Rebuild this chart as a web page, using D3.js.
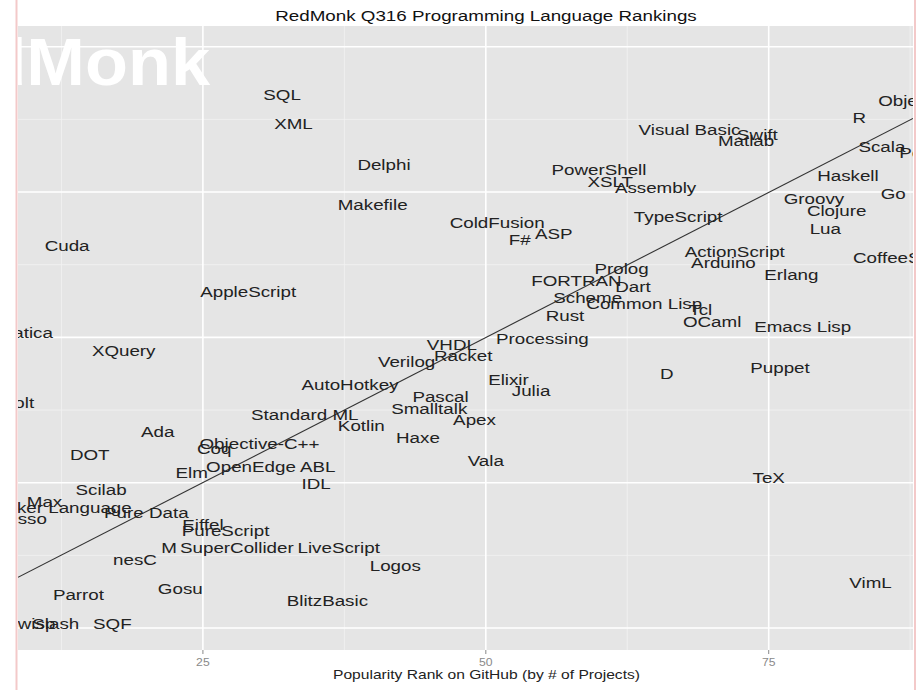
<!DOCTYPE html>
<html>
<head>
<meta charset="utf-8">
<script src="https://cdn.jsdelivr.net/npm/d3@7"></script>
<style>
  body { margin: 0; background: #fff; }
  svg text { font-family: "Liberation Sans", Arial, sans-serif; }
</style>
</head>
<body>
<div id="chart"></div>
<script>
// Languages, with their GitHub rank (x) and Stack Overflow rank (y)
const languages = [
  "SQL", "XML", "Delphi", "Makefile", "Cuda", "AppleScript", "Mathematica", "XQuery",
  "Volt", "Ada", "DOT", "Scilab", "Max", "Game Maker Language", "Lasso", "Pure Data",
  "Eiffel", "PureScript", "M", "SuperCollider", "LiveScript", "nesC", "Logos", "Gosu",
  "Parrot", "BlitzBasic", "Slash", "SQF", "wisp",
  "Visual Basic", "Swift", "Matlab", "PowerShell", "XSLT", "Assembly", "TypeScript",
  "ColdFusion", "F#", "ASP", "ActionScript", "Arduino", "Prolog", "FORTRAN", "Dart",
  "Scheme", "Common Lisp", "Tcl", "Rust", "OCaml", "Processing", "Emacs Lisp", "Erlang",
  "Groovy", "Clojure", "Lua", "Haskell", "Go", "Scala", "Perl", "R", "Objective-C",
  "CoffeeScript", "VHDL", "Racket", "Verilog", "AutoHotkey", "Pascal", "Smalltalk",
  "Apex", "Elixir", "Julia", "Standard ML", "Kotlin", "Haxe", "Objective-C++", "Coq",
  "Elm", "OpenEdge ABL", "IDL", "Vala", "D", "Puppet", "TeX", "VimL"
];
const githubRank = [
  32, 33, 41, 40, 13, 29, 7, 18,
  8.7, 21, 15, 16, 11, 10, 9, 20,
  25, 27, 22, 28, 37, 19, 42, 23,
  14, 36, 12, 17, 10.3,
  68, 74, 73, 60, 61, 65, 67,
  51, 53, 56, 72, 71, 62, 58, 63,
  59, 64, 69, 57, 70, 55, 78, 77,
  79, 81, 80, 82, 86, 85, 88, 83, 89,
  87, 47, 48, 43, 38, 46, 45,
  49, 52, 54, 34, 39, 44, 30, 26,
  24, 31, 35, 50, 66, 76, 75, 84
];
const stackRank = [
  92, 87, 80, 73, 66, 58, 51, 48,
  39, 34, 30, 24, 22, 21, 19, 20,
  18, 17, 14, 14, 14, 12, 11, 7,
  6, 5, 1, 1, 1,
  86, 85, 84, 79, 77, 76, 71,
  70, 67, 68, 65, 63, 62, 60, 59,
  57, 56, 55, 54, 53, 50, 52, 61,
  74, 72, 69, 78, 75, 83, 82, 88, 91,
  64, 49, 47, 46, 42, 40, 38,
  36, 43, 41, 37, 35, 33, 32, 31,
  27, 28, 25, 29, 44, 45, 26, 8
];

const xTicks = [25, 50, 75];
const xMinor = [12.5, 37.5, 62.5, 87.5];
const yMajor = [0, 25, 50, 75, 100];
const yMinor = [12.5, 37.5, 62.5, 87.5];
// linear fit
const fitIntercept = 0.08;
const fitSlope = 0.998;

const W = 919, H = 690;
const panel = { left: 18, right: 913, top: 26, bottom: 650 };
const sx = 1.22; // the picture is stretched sideways

const x = d3.scaleLinear().domain([8.66, 87.75]).range([panel.left, panel.right]);
const y = d3.scaleLinear().domain([-3.78, 103.56]).range([panel.bottom, panel.top]);

const svg = d3.select('#chart').append('svg')
  .attr('width', W).attr('height', H);

svg.append('rect').attr('width', W).attr('height', H).attr('fill', '#fff');

svg.append('clipPath').attr('id', 'panelClip')
  .append('rect')
  .attr('x', panel.left).attr('y', panel.top)
  .attr('width', panel.right - panel.left)
  .attr('height', panel.bottom - panel.top);

// panel background
svg.append('rect')
  .attr('x', panel.left).attr('y', panel.top)
  .attr('width', panel.right - panel.left)
  .attr('height', panel.bottom - panel.top)
  .attr('fill', '#e5e5e5');

const g = svg.append('g').attr('clip-path', 'url(#panelClip)');

// minor grid
g.selectAll('line.xminor').data(xMinor).join('line')
  .attr('x1', d => x(d)).attr('x2', d => x(d))
  .attr('y1', panel.top).attr('y2', panel.bottom)
  .attr('stroke', '#f2f2f2').attr('stroke-width', 0.8);
g.selectAll('line.yminor').data(yMinor).join('line')
  .attr('y1', d => y(d)).attr('y2', d => y(d))
  .attr('x1', panel.left).attr('x2', panel.right)
  .attr('stroke', '#f2f2f2').attr('stroke-width', 0.8);

// major grid
g.selectAll('line.xmajor').data(xTicks).join('line')
  .attr('x1', d => x(d)).attr('x2', d => x(d))
  .attr('y1', panel.top).attr('y2', panel.bottom)
  .attr('stroke', '#fff').attr('stroke-width', 1.6);
g.selectAll('line.ymajor').data(yMajor).join('line')
  .attr('y1', d => y(d)).attr('y2', d => y(d))
  .attr('x1', panel.left).attr('x2', panel.right)
  .attr('stroke', '#fff').attr('stroke-width', 1.6);

// watermark
g.append('text')
  .attr('transform', `translate(210,85) scale(1.05,1)`)
  .attr('text-anchor', 'end')
  .style('font-size', '67px')
  .style('font-weight', 'bold')
  .attr('fill', '#fff')
  .text('RedMonk');

// fit line
const [x0, x1] = x.domain();
g.append('line')
  .attr('x1', x(x0)).attr('y1', y(fitIntercept + fitSlope * x0))
  .attr('x2', x(x1)).attr('y2', y(fitIntercept + fitSlope * x1))
  .attr('stroke', '#333').attr('stroke-width', 1.1);

// language labels
g.selectAll('text.lang').data(d3.range(languages.length)).join('text')
  .attr('class', 'lang')
  .attr('transform', i => `translate(${x(githubRank[i])},${y(stackRank[i]) + 6.6}) scale(${sx},1)`)
  .attr('text-anchor', 'middle')
  .style('font-size', '15.4px')
  .attr('fill', '#222')
  .text(i => languages[i]);

// x axis ticks
svg.selectAll('line.tick').data(xTicks).join('line')
  .attr('x1', d => x(d)).attr('x2', d => x(d))
  .attr('y1', panel.bottom).attr('y2', panel.bottom + 4)
  .attr('stroke', '#8a8a8a').attr('stroke-width', 1);
svg.selectAll('text.tick').data(xTicks).join('text')
  .attr('transform', d => `translate(${x(d)},666) scale(${sx},1)`)
  .attr('text-anchor', 'middle')
  .style('font-size', '10px')
  .attr('fill', '#8a8a8a')
  .text(d => d);

// axis title
svg.append('text')
  .attr('transform', `translate(486.5,679) scale(${sx},1)`)
  .attr('text-anchor', 'middle')
  .style('font-size', '12.8px')
  .attr('fill', '#222')
  .text('Popularity Rank on GitHub (by # of Projects)');

// chart title
svg.append('text')
  .attr('transform', `translate(486,21) scale(${sx},1)`)
  .attr('text-anchor', 'middle')
  .style('font-size', '15.4px')
  .attr('fill', '#111')
  .text('RedMonk Q316 Programming Language Rankings');

// pink frame edges of the crop
[16.5, 915].forEach(px => {
  svg.append('line')
    .attr('x1', px).attr('x2', px).attr('y1', 0).attr('y2', H)
    .attr('stroke', '#f3c9c9').attr('stroke-width', 2);
});
</script>
</body>
</html>
